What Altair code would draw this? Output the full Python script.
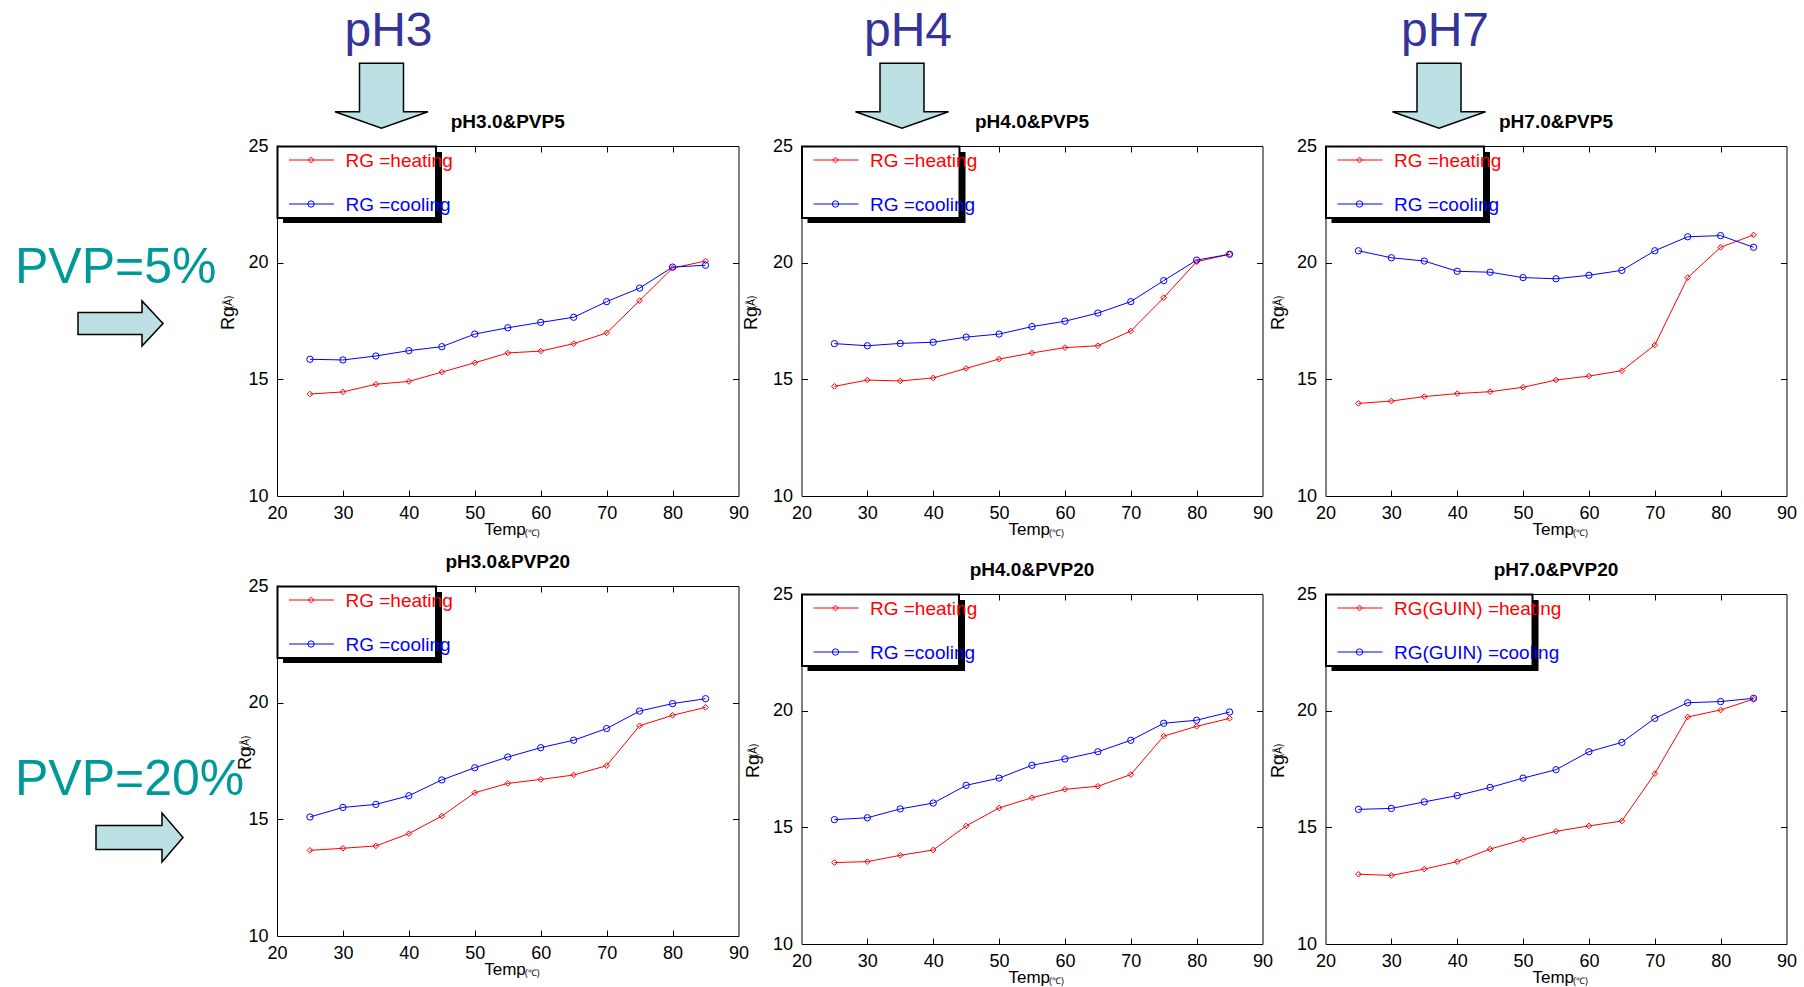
import altair as alt
import pandas as pd

W, H = 1804, 987
FONT = "Liberation Sans"
RED, BLUE = "#FF0000", "#0000FF"
CYAN = "#BCE0E3"
PURPLE = "#333399"
TEAL = "#009999"

# ---------------- data ----------------
temps = [25, 30, 35, 40, 45, 50, 55, 60, 65, 70, 75, 80, 85]

heat_ph3_pvp5 = [14.37, 14.46, 14.79, 14.91, 15.31, 15.71, 16.13, 16.21, 16.53, 16.99, 18.37, 19.77, 20.07]
cool_ph3_pvp5 = [15.86, 15.83, 16.00, 16.23, 16.40, 16.94, 17.21, 17.44, 17.66, 18.33, 18.91, 19.81, 19.89]
heat_ph4_pvp5 = [14.70, 14.97, 14.93, 15.06, 15.47, 15.87, 16.13, 16.36, 16.44, 17.07, 18.50, 20.04, 20.36]
cool_ph4_pvp5 = [16.53, 16.44, 16.54, 16.59, 16.81, 16.94, 17.26, 17.49, 17.84, 18.33, 19.23, 20.11, 20.36]
heat_ph7_pvp5 = [13.97, 14.07, 14.26, 14.39, 14.47, 14.66, 14.97, 15.14, 15.37, 16.47, 19.36, 20.66, 21.19]
cool_ph7_pvp5 = [20.51, 20.21, 20.07, 19.63, 19.59, 19.36, 19.31, 19.46, 19.67, 20.51, 21.11, 21.16, 20.66]
heat_ph3_pvp20 = [13.67, 13.76, 13.86, 14.39, 15.14, 16.14, 16.54, 16.71, 16.90, 17.30, 19.01, 19.46, 19.80]
cool_ph3_pvp20 = [15.10, 15.51, 15.64, 16.01, 16.69, 17.21, 17.67, 18.07, 18.39, 18.89, 19.64, 19.96, 20.17]
heat_ph4_pvp20 = [13.49, 13.53, 13.80, 14.03, 15.06, 15.83, 16.27, 16.63, 16.76, 17.26, 18.91, 19.33, 19.67]
cool_ph4_pvp20 = [15.33, 15.41, 15.79, 16.04, 16.80, 17.11, 17.66, 17.93, 18.24, 18.73, 19.46, 19.59, 19.94]
heat_ph7_pvp20 = [12.99, 12.94, 13.21, 13.53, 14.07, 14.47, 14.83, 15.06, 15.27, 17.30, 19.73, 20.03, 20.50]
cool_ph7_pvp20 = [15.77, 15.81, 16.09, 16.36, 16.71, 17.11, 17.47, 18.24, 18.64, 19.67, 20.34, 20.39, 20.53]

series_heat = [heat_ph3_pvp5, heat_ph4_pvp5, heat_ph7_pvp5, heat_ph3_pvp20, heat_ph4_pvp20, heat_ph7_pvp20]
series_cool = [cool_ph3_pvp5, cool_ph4_pvp5, cool_ph7_pvp5, cool_ph3_pvp20, cool_ph4_pvp20, cool_ph7_pvp20]

panel_titles = ["pH3.0&PVP5", "pH4.0&PVP5", "pH7.0&PVP5", "pH3.0&PVP20", "pH4.0&PVP20", "pH7.0&PVP20"]
legend_heat = ["RG =heating"] * 5 + ["RG(GUIN) =heating"]
legend_cool = ["RG =cooling"] * 5 + ["RG(GUIN) =cooling"]
ph_labels = ["pH3", "pH4", "pH7"]
pvp_labels = ["PVP=5%", "PVP=20%"]
x_ticks = [20, 30, 40, 50, 60, 70, 80, 90]
y_ticks = [10, 15, 20, 25]
x_inner = [30, 40, 50, 60, 70, 80]
y_inner = [15, 20]
x_title = "Temp"
x_unit = "(\u2103)"
y_title = "Rg"
y_unit = "(\u00c5)"

# ---------------- layout (pixels) ----------------
boxes = [(277, 738.5, 146, 496), (801.5, 1262.5, 146, 496), (1325.5, 1786.5, 146, 496),
         (277, 738.5, 586, 936), (801.5, 1262.5, 594, 944), (1325.5, 1786.5, 594, 944)]
legend_w = [159, 158, 158.5, 159, 157.5, 207]
rg_x = [234, 757, 1284, 251, 759, 1284]
ph_x = [388.5, 908, 1445]

ONE = alt.Data(values=[{"a": 1}])


def text(t, x, y, size, color="black", weight="normal", align="left",
         baseline="alphabetic", angle=0, font=FONT):
    kw = dict(text=t, fontSize=size, color=color, fontWeight=weight, align=align,
              baseline=baseline, font=font)
    if angle:
        kw["angle"] = angle
    return alt.Chart(ONE).mark_text(**kw).encode(x=alt.value(x), y=alt.value(y))


def ax(orient, offset, labels=False, domain=False, ticks=False, values=None):
    return alt.Axis(orient=orient, offset=offset, labels=labels, domain=domain, ticks=ticks,
                    tickSize=6 if ticks else 0, values=values, grid=False, title=None,
                    domainColor="black", domainWidth=1, tickColor="black", tickWidth=1,
                    labelFont=FONT, labelFontSize=18, labelColor="black",
                    labelPadding=8 if orient == "bottom" else 9,
                    labelFlush=False, labelOverlap=False, labelBound=False)


def panel(i):
    L, R, T, B = boxes[i]
    n = len(temps)
    df = pd.DataFrame({"temp": temps + temps,
                       "rg": series_heat[i] + series_cool[i],
                       "series": ["heating"] * n + ["cooling"] * n})
    xs = alt.Scale(domain=[20, 90], range=[L, R], nice=False, zero=False)
    ys = alt.Scale(domain=[10, 25], range=[B, T], nice=False, zero=False)
    col = alt.Color("series:N", scale=alt.Scale(domain=["heating", "cooling"], range=[RED, BLUE]),
                    legend=None)
    base = alt.Chart(df)
    layers = []
    layers.append(base.mark_line(strokeWidth=1).encode(
        x=alt.X("temp:Q", scale=xs, axis=ax("bottom", B - H, labels=True, domain=True, values=x_ticks)),
        y=alt.Y("rg:Q", scale=ys, axis=ax("left", -L, labels=True, domain=True, values=y_ticks)),
        color=col))
    layers.append(base.transform_filter(alt.datum.series == "heating").mark_point(
        shape="diamond", size=32, filled=False, strokeWidth=1, opacity=1, color=RED).encode(
        x=alt.X("temp:Q", scale=xs, axis=ax("top", -T, domain=True, values=x_ticks)),
        y=alt.Y("rg:Q", scale=ys, axis=ax("right", R - W, domain=True, values=y_ticks))))
    layers.append(base.transform_filter(alt.datum.series == "cooling").mark_point(
        shape="circle", size=40, filled=False, strokeWidth=1, opacity=1, color=BLUE).encode(
        x=alt.X("temp:Q", scale=xs, axis=ax("top", -(T + 6), ticks=True, values=x_inner)),
        y=alt.Y("rg:Q", scale=ys, axis=ax("right", R - 6 - W, ticks=True, values=y_inner))))
    layers.append(base.mark_point(opacity=0).encode(
        x=alt.X("temp:Q", scale=xs, axis=ax("bottom", B - 6 - H, ticks=True, values=x_inner)),
        y=alt.Y("rg:Q", scale=ys, axis=ax("left", -(L + 6), ticks=True, values=y_inner))))

    # legend box with shadow
    lw, lh = legend_w[i], 72
    layers.append(alt.Chart(ONE).mark_rect(fill="black").encode(
        x=alt.value(L + 6), x2=alt.value(L + lw + 6), y=alt.value(T + 6), y2=alt.value(T + lh + 5)))
    layers.append(alt.Chart(ONE).mark_rect(fill="white", stroke="black", strokeWidth=2).encode(
        x=alt.value(L + 0.5), x2=alt.value(L + lw), y=alt.value(T + 0.5), y2=alt.value(T + lh)))
    for dy, c, shp, sz, lab in [(14, RED, "diamond", 32, legend_heat[i]),
                                (58, BLUE, "circle", 40, legend_cool[i])]:
        layers.append(alt.Chart(ONE).mark_rule(color=c, strokeWidth=1).encode(
            x=alt.value(L + 12), x2=alt.value(L + 57), y=alt.value(T + dy)))
        layers.append(alt.Chart(ONE).mark_point(shape=shp, size=sz, filled=False, strokeWidth=1,
                                                opacity=1, color=c).encode(
            x=alt.value(L + 34), y=alt.value(T + dy)))
        layers.append(text(lab, L + 68.5, T + dy + 6.5, 19, color=c))

    cx = (L + R) / 2
    layers.append(text(panel_titles[i], cx, T - 18, 19, weight="bold", align="center"))
    layers.append(text(x_title, cx + 18, B + 39, 17, align="right"))
    layers.append(text(x_unit, cx + 17, B + 40, 9, align="left"))
    layers.append(text(y_title, rg_x[i], T + 184, 18, angle=270))
    layers.append(text(y_unit, rg_x[i] - 2, T + 163, 10, angle=270))
    return layers


def arrow_down_path(hw_shaft, y_top, y_head, y_tip):
    return (f"M{-hw_shaft},{y_top} L{hw_shaft},{y_top} L{hw_shaft},{y_head} L1,{y_head} "
            f"L0,{y_tip} L-1,{y_head} L{-hw_shaft},{y_head} Z")


def arrow_right_path(hh_shaft, x_head, hh_head):
    return (f"M-1,{-hh_shaft} L{x_head},{-hh_shaft} L{x_head},{-hh_head} L1,0 "
            f"L{x_head},{hh_head} L{x_head},{hh_shaft} L-1,{hh_shaft} Z")


def arrow(path, x, y, size):
    return alt.Chart(ONE).mark_point(shape=path, size=size, filled=True, fill=CYAN, opacity=1,
                                     fillOpacity=1, stroke="black", strokeWidth=1.5).encode(
        x=alt.value(x), y=alt.value(y))


all_layers = []
for i in range(6):
    all_layers += panel(i)

down = arrow_down_path(0.473, -0.699, 0.342, 0.699)
for k, lab in enumerate(ph_labels):
    all_layers.append(text(lab, ph_x[k], 46, 48, color=PURPLE, align="center"))
    all_layers.append(arrow(down, [381.5, 902, 1439][k], 95.8, 93 ** 2))

all_layers.append(text(pvp_labels[0], 15, 283, 50, color=TEAL))
all_layers.append(text(pvp_labels[1], 15, 795, 50, color=TEAL))
all_layers.append(arrow(arrow_right_path(0.259, 0.506, 0.529), 120.5, 323.5, 85 ** 2))
all_layers.append(arrow(arrow_right_path(0.276, 0.517, 0.563), 139.5, 837.5, 87 ** 2))

chart = alt.layer(*all_layers).resolve_scale(
    x="independent", y="independent"
).resolve_axis(
    x="independent", y="independent"
).properties(
    width=W, height=H, autosize=alt.AutoSizeParams(type="none"), padding=0, background="white"
).configure_view(stroke=None)

chart.save("out.html", embed_options={"renderer": "svg", "actions": False})
